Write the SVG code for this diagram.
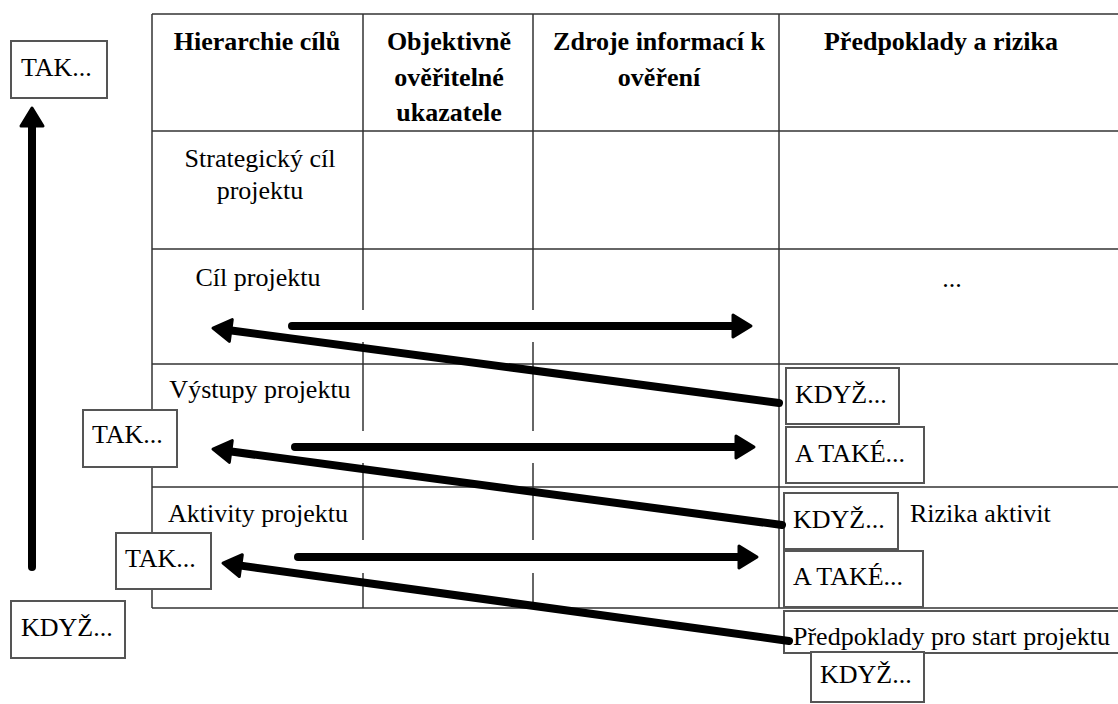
<svg xmlns="http://www.w3.org/2000/svg" width="1118" height="704" viewBox="0 0 1118 704">
<style>
 .h{font-weight:bold;text-anchor:middle}
 .c{text-anchor:middle}
 .grid line{stroke:#333;stroke-width:1.5}
 .box{fill:#fff;stroke:#555;stroke-width:2}
 .arr{stroke:#000;stroke-width:8;stroke-linecap:round;fill:none;marker-end:url(#ah)}
</style>
<defs>
 <marker id="ah" markerUnits="userSpaceOnUse" markerWidth="30" markerHeight="30" viewBox="-2 -15 30 30" refX="10" refY="0" orient="auto" overflow="visible">
  <path d="M1,-11 L19,0 L1,11 z" fill="#000" stroke="#000" stroke-width="3" stroke-linejoin="round"/>
 </marker>
</defs>
<rect width="1118" height="704" fill="#fff"/>
<g font-family="'Liberation Serif', 'DejaVu Serif', serif" font-size="26" fill="#000">
<g id="table" class="grid">
 <line x1="152" y1="14" x2="1118" y2="14"/>
 <line x1="152" y1="131" x2="1118" y2="131"/>
 <line x1="152" y1="249" x2="1118" y2="249"/>
 <line x1="152" y1="364" x2="1118" y2="364"/>
 <line x1="152" y1="487" x2="1118" y2="487"/>
 <line x1="152" y1="608" x2="1118" y2="608"/>
 <line x1="152" y1="14" x2="152" y2="608"/>
 <line x1="779" y1="14" x2="779" y2="608"/>
 <line x1="363" y1="14" x2="363" y2="310"/>
 <line x1="363" y1="342" x2="363" y2="431"/>
 <line x1="363" y1="463" x2="363" y2="540"/>
 <line x1="363" y1="573" x2="363" y2="608"/>
 <line x1="533" y1="14" x2="533" y2="310"/>
 <line x1="533" y1="342" x2="533" y2="431"/>
 <line x1="533" y1="463" x2="533" y2="540"/>
 <line x1="533" y1="573" x2="533" y2="608"/>
 <text class="h" x="257" y="50">Hierarchie cílů</text>
 <text class="h" x="449" y="50">Objektivně</text>
 <text class="h" x="449" y="86">ověřitelné</text>
 <text class="h" x="449" y="121">ukazatele</text>
 <text class="h" x="659" y="50">Zdroje informací k</text>
 <text class="h" x="659" y="86">ověření</text>
 <text class="h" x="941" y="50">Předpoklady a rizika</text>
 <text class="c" x="260" y="167">Strategický cíl</text>
 <text class="c" x="260" y="199">projektu</text>
 <text class="c" x="258" y="286">Cíl projektu</text>
 <text class="c" x="952" y="287">...</text>
 <text class="c" x="260" y="398">Výstupy projektu</text>
 <text class="c" x="258" y="522">Aktivity projektu</text>
 <text x="910" y="522">Rizika aktivit</text>
</g>
<g id="tak-top"><rect class="box" x="11" y="41" width="96" height="57"/><text x="21" y="76">TAK...</text></g>
<g id="kdyz-left"><rect class="box" x="11" y="601" width="114" height="57"/><text x="21" y="636">KDYŽ...</text></g>
<g id="tak-vystupy"><rect class="box" x="83" y="410" width="94" height="57"/><text x="92" y="443">TAK...</text></g>
<g id="tak-aktivity"><rect class="box" x="116" y="533" width="95" height="56"/><text x="125" y="567">TAK...</text></g>
<g id="kdyz-vystupy"><rect class="box" x="786" y="368" width="113" height="56"/><text x="795" y="403">KDYŽ...</text></g>
<g id="atake-vystupy"><rect class="box" x="786" y="427" width="138" height="56"/><text x="795" y="462">A TAKÉ...</text></g>
<g id="kdyz-aktivity"><rect class="box" x="784" y="493" width="114" height="56"/><text x="793" y="528">KDYŽ...</text></g>
<g id="atake-aktivity"><rect class="box" x="784" y="551" width="139" height="56"/><text x="793" y="585">A TAKÉ...</text></g>
<g id="predpoklady"><rect class="box" x="784" y="611" width="340" height="42"/><text x="793" y="645">Předpoklady pro start projektu</text></g>
<g id="kdyz-start"><rect class="box" x="811" y="652" width="113" height="50"/><text x="820" y="683">KDYŽ...</text></g>
</g>
<g id="connectors">
 <line class="arr" x1="32" y1="567" x2="32" y2="117"/>
 <line class="arr" x1="292" y1="326" x2="742" y2="326"/>
 <line class="arr" x1="295" y1="447" x2="745" y2="447"/>
 <line class="arr" x1="298" y1="557" x2="748" y2="557"/>
 <line class="arr" x1="779" y1="403" x2="221.9" y2="329.3"/>
 <line class="arr" x1="782" y1="525" x2="221.9" y2="450.3"/>
 <line class="arr" x1="789" y1="641" x2="231.9" y2="564.4"/>
</g>
</svg>
